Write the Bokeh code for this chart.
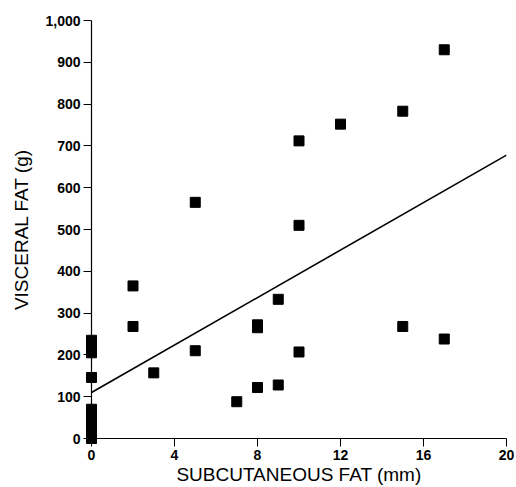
from bokeh.plotting import figure
from bokeh.models import Range1d, NumeralTickFormatter, FixedTicker
from bokeh.embed import file_html
from bokeh.resources import INLINE

# Data
subcut = [0, 0, 0, 0, 0, 0, 0, 0, 0, 0,
          2, 2, 3, 5, 5, 7, 8, 8, 8, 9, 9, 10, 10, 10, 12, 15, 15, 17, 17]
visceral = [235, 220, 205, 146, 70, 55, 35, 15, 5, 0,
            365, 268, 157, 565, 210, 88, 272, 265, 122, 333, 128, 712, 510, 207, 752, 783, 268, 930, 238]

fit_x = [0, 20]
fit_y = [110, 678]

x_ticks = [0, 4, 8, 12, 16, 20]
y_ticks = [0, 100, 200, 300, 400, 500, 600, 700, 800, 900, 1000]

p = figure(width=516, height=487, output_backend="svg", toolbar_location=None,
           x_range=Range1d(0, 20), y_range=Range1d(0, 1000),
           min_border_left=91, min_border_right=10, min_border_top=20, min_border_bottom=49)
p.outline_line_color = None
p.grid.visible = False
p.background_fill_color = "white"
p.border_fill_color = "white"

p.line(fit_x, fit_y, line_color="black", line_width=1.6)
p.scatter(subcut, visceral, marker="square", size=10, fill_color="black",
          line_color="black", level="overlay")

for ax in (p.xaxis[0], p.yaxis[0]):
    ax.axis_line_color = "black"
    ax.axis_line_width = 1.2
    ax.major_tick_line_color = "black"
    ax.major_tick_in = 0
    ax.major_tick_out = 8
    ax.minor_tick_line_color = None
    ax.major_label_text_font = "Liberation Sans"
    ax.major_label_text_font_style = "bold"
    ax.major_label_text_font_size = "14px"
    ax.major_label_text_color = "black"
    ax.axis_label_text_font = "Liberation Sans"
    ax.axis_label_text_font_style = "normal"
    ax.axis_label_text_font_size = "19px"
    ax.axis_label_text_color = "black"

p.xaxis[0].ticker = FixedTicker(ticks=x_ticks)
p.yaxis[0].ticker = FixedTicker(ticks=y_ticks)
p.yaxis[0].formatter = NumeralTickFormatter(format="0,0")
p.xaxis[0].axis_label = "SUBCUTANEOUS FAT (mm)"
p.yaxis[0].axis_label = "VISCERAL FAT (g)"
p.xaxis[0].major_label_standoff = 3
p.yaxis[0].major_label_standoff = 3
p.xaxis[0].axis_label_standoff = 1
p.yaxis[0].axis_label_standoff = 10

open("out.html", "w").write(file_html(p, INLINE))
